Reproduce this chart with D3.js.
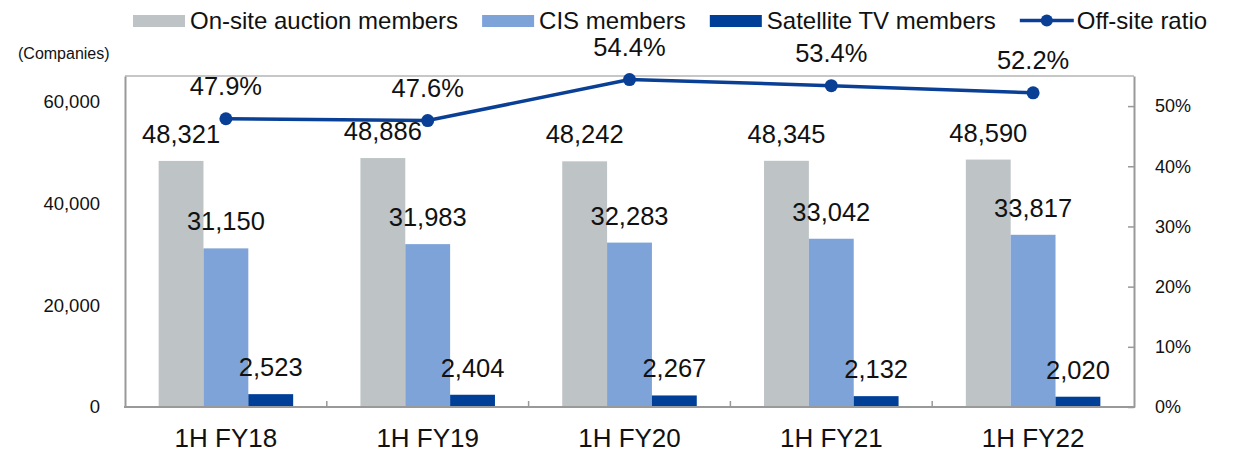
<!DOCTYPE html>
<html>
<head>
    <meta charset="utf-8" />
    <title>Members chart</title>
    <style>
        html, body {
            margin: 0;
            padding: 0;
            background-color: #fff;
            font-family: 'Liberation Sans', Arial, sans-serif;
        }
        .canvas {
            width: 1233px;
            height: 452px;
        }
    </style>
</head>
<body>
    <div class="canvas"></div>
    <script src="https://d3js.org/d3.v7.min.js"></script>
    <script>
        // data
        var categories = ["1H FY18", "1H FY19", "1H FY20", "1H FY21", "1H FY22"];
        var seriesNames = ["On-site auction members", "CIS members", "Satellite TV members"];
        var onsite = [48321, 48886, 48242, 48345, 48590];
        var cis = [31150, 31983, 32283, 33042, 33817];
        var satellite = [2523, 2404, 2267, 2132, 2020];
        var ratio = [47.9, 47.6, 54.4, 53.4, 52.2];
        var lineName = "Off-site ratio";
        var leftTicks = [0, 20000, 40000, 60000];
        var rightTicks = [0, 10, 20, 30, 40, 50];

        var colors = ["#bec3c6", "#7ea3d8", "#003f98"];
        var lineColor = "#0a3f96";

        var width = 1233, height = 452;
        var plotLeft = 125, plotRight = 1134, plotTop = 76, plotBottom = 407;

        var svg = d3.select(".canvas")
            .append("svg")
            .attr("width", width)
            .attr("height", height);

        var x0 = d3.scaleBand()
            .domain(categories)
            .range([plotLeft, plotRight])
            .paddingInner(1/3)
            .paddingOuter(1/6);

        var x1 = d3.scaleBand()
            .domain(d3.range(3))
            .range([0, x0.bandwidth()]);

        var yL = d3.scaleLinear().domain([0, 65000]).range([plotBottom, plotTop]);
        var yR = d3.scaleLinear().domain([0, 55]).range([plotBottom, plotTop]);

        var rows = categories.map(function(c, i) {
            return { cat: c, vals: [onsite[i], cis[i], satellite[i]] };
        });

        // plot frame (top border lighter)
        svg.append("line")
            .attr("x1", plotLeft).attr("x2", plotRight)
            .attr("y1", plotTop).attr("y2", plotTop)
            .attr("stroke", "#b4b4b4").attr("stroke-width", 1.5);

        // bars
        var groups = svg.selectAll("g.grp")
            .data(rows)
            .enter().append("g")
            .attr("class", "grp")
            .attr("transform", function(d) { return "translate(" + x0(d.cat) + ",0)"; });

        groups.selectAll("rect")
            .data(function(d) { return d.vals; })
            .enter().append("rect")
            .attr("x", function(d, i) { return x1(i); })
            .attr("y", function(d) { return yL(d); })
            .attr("width", x1.bandwidth())
            .attr("height", function(d) { return plotBottom - yL(d); })
            .attr("fill", function(d, i) { return colors[i]; });

        groups.selectAll("text")
            .data(function(d) { return d.vals; })
            .enter().append("text")
            .attr("x", function(d, i) { return x1(i) + x1.bandwidth() / 2; })
            .attr("y", function(d) { return yL(d) - 18; })
            .attr("text-anchor", "middle")
            .attr("font-size", "25.5px")
            .attr("fill", "#111")
            .text(function(d) { return d3.format(",")(d); });

        // left axis
        var axL = svg.append("g")
            .attr("transform", "translate(" + plotLeft + ",0)")
            .call(d3.axisLeft(yL).tickValues(leftTicks).tickSize(0).tickPadding(25).tickFormat(d3.format(",")));
        axL.select(".domain").attr("stroke", "#999").attr("stroke-width", 2);
        axL.selectAll("text").attr("font-size", "18.5px").attr("fill", "#111")
            .attr("font-family", "'Liberation Sans', Arial, sans-serif");

        // right axis
        var axR = svg.append("g")
            .attr("transform", "translate(" + plotRight + ",0)")
            .call(d3.axisRight(yR).tickValues(rightTicks).tickSizeInner(-6).tickSizeOuter(0).tickPadding(21)
                .tickFormat(function(d) { return d + "%"; }));
        axR.select(".domain").attr("stroke", "#999").attr("stroke-width", 2);
        axR.selectAll(".tick line").attr("stroke", "#999").attr("stroke-width", 1.5);
        axR.selectAll("text").attr("font-size", "18px").attr("fill", "#111")
            .attr("font-family", "'Liberation Sans', Arial, sans-serif");

        // bottom axis with ticks between categories
        var step = x0.step();
        svg.append("line")
            .attr("x1", plotLeft - 1).attr("x2", plotRight + 1)
            .attr("y1", plotBottom).attr("y2", plotBottom)
            .attr("stroke", "#999").attr("stroke-width", 2);
        svg.selectAll("line.xtick")
            .data(categories.slice(1))
            .enter().append("line")
            .attr("class", "xtick")
            .attr("x1", function(d) { return x0(d) + x0.bandwidth() / 2 - step / 2; })
            .attr("x2", function(d) { return x0(d) + x0.bandwidth() / 2 - step / 2; })
            .attr("y1", plotBottom).attr("y2", plotBottom - 6)
            .attr("stroke", "#999").attr("stroke-width", 1.5);
        svg.selectAll("text.xlab")
            .data(categories)
            .enter().append("text")
            .attr("class", "xlab")
            .attr("x", function(d) { return x0(d) + x0.bandwidth() / 2; })
            .attr("y", 447)
            .attr("text-anchor", "middle")
            .attr("font-size", "26px")
            .attr("fill", "#111")
            .text(function(d) { return d; });

        // ratio line
        var line = d3.line()
            .x(function(d, i) { return x0(categories[i]) + x0.bandwidth() / 2; })
            .y(function(d) { return yR(d); });

        svg.append("path")
            .datum(ratio)
            .attr("d", line)
            .attr("fill", "none")
            .attr("stroke", lineColor)
            .attr("stroke-width", 3.5);

        svg.selectAll("circle.pt")
            .data(ratio)
            .enter().append("circle")
            .attr("class", "pt")
            .attr("cx", function(d, i) { return x0(categories[i]) + x0.bandwidth() / 2; })
            .attr("cy", function(d) { return yR(d); })
            .attr("r", 6.5)
            .attr("fill", lineColor);

        svg.selectAll("text.pct")
            .data(ratio)
            .enter().append("text")
            .attr("class", "pct")
            .attr("x", function(d, i) { return x0(categories[i]) + x0.bandwidth() / 2; })
            .attr("y", function(d) { return yR(d) - 24; })
            .attr("text-anchor", "middle")
            .attr("font-size", "25.5px")
            .attr("fill", "#111")
            .text(function(d) { return d.toFixed(1) + "%"; });

        // unit label
        svg.append("text")
            .attr("x", 18).attr("y", 59)
            .attr("font-size", "16px")
            .attr("fill", "#111")
            .text("(Companies)");

        // legend
        var legend = svg.append("g");
        var lx = 133;
        var items = seriesNames.map(function(n, i) { return { name: n, color: colors[i], type: "bar" }; });
        items.push({ name: lineName, color: lineColor, type: "line" });
        items.forEach(function(it) {
            if (it.type === "bar") {
                legend.append("rect")
                    .attr("x", lx).attr("y", 15)
                    .attr("width", 52).attr("height", 12)
                    .attr("fill", it.color);
            } else {
                legend.append("line")
                    .attr("x1", lx).attr("x2", lx + 54)
                    .attr("y1", 20.5).attr("y2", 20.5)
                    .attr("stroke", it.color).attr("stroke-width", 3.5);
                legend.append("circle")
                    .attr("cx", lx + 27).attr("cy", 20.5).attr("r", 6)
                    .attr("fill", it.color);
            }
            var t = legend.append("text")
                .attr("x", lx + 57).attr("y", 29)
                .attr("font-size", "24px")
                .attr("fill", "#111")
                .text(it.name);
            lx = lx + 57 + t.node().getComputedTextLength() + 24;
        });
    </script>
</body>
</html>
